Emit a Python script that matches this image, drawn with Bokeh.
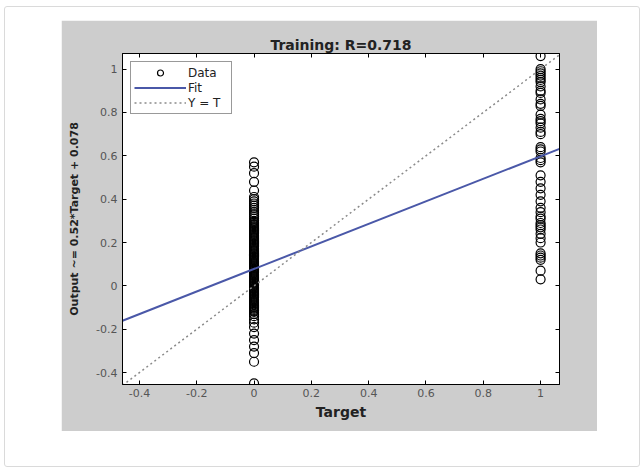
from bokeh.plotting import figure
from bokeh.models import (LinearAxis, FixedTicker, Range1d, Legend, LegendItem, ColumnDataSource)
from bokeh.layouts import column
from bokeh.embed import file_html
from bokeh.resources import INLINE

# ---- data ----
title_text = "Training: R=0.718"
x_label = "Target"
y_label = "Output ~= 0.52*Target + 0.078"
tick_values = [-0.4, -0.2, 0, 0.2, 0.4, 0.6, 0.8, 1]
tick_labels = ["-0.4", "-0.2", "0", "0.2", "0.4", "0.6", "0.8", "1"]
x_limits = [-0.459, 1.066]
y_limits = [-0.455, 1.072]

target_zero = 0
outputs_target_zero = [
    0.57, 0.55, 0.52, 0.48, 0.44, 0.41, 0.40, 0.39, 0.38, 0.37, 0.36, 0.35, 0.34,
    0.33, 0.32, 0.31, 0.30, 0.29, 0.28, 0.27, 0.26, 0.25, 0.24, 0.23, 0.22, 0.21,
    0.20, 0.19, 0.18, 0.17, 0.16, 0.15, 0.14, 0.13, 0.12, 0.11, 0.10, 0.09, 0.08,
    0.07, 0.06, 0.05, 0.04, 0.03, 0.02, 0.01, 0.00, -0.01, -0.02, -0.03, -0.04,
    -0.05, -0.06, -0.07, -0.08, -0.09, -0.10, -0.11, -0.12, -0.13, -0.14, -0.155,
    -0.17, -0.19, -0.22, -0.25, -0.28, -0.31, -0.35, -0.45,
    0.295, 0.285, 0.275, 0.265, 0.255, 0.245, 0.235, 0.225, 0.215, 0.205, 0.195,
    0.185, 0.175, 0.165, 0.155, 0.145, 0.135, 0.125, 0.115, 0.105, 0.095, 0.085,
    0.075, 0.065, 0.055, 0.045, 0.035, 0.025, 0.015, 0.005, -0.005, -0.015, -0.025,
    -0.035, -0.045, -0.055, -0.065, -0.075, -0.085, -0.095, -0.105, -0.115,
]
target_one = 1
outputs_target_one = [
    1.06, 1.00, 0.99, 0.98, 0.97, 0.96, 0.95, 0.94, 0.92, 0.90, 0.89, 0.86, 0.84,
    0.83, 0.79, 0.77, 0.76, 0.75, 0.73, 0.71, 0.70, 0.64, 0.63, 0.62, 0.59, 0.58,
    0.57, 0.51, 0.48, 0.45, 0.42, 0.39, 0.36, 0.34, 0.32, 0.31, 0.29, 0.28, 0.27,
    0.26, 0.24, 0.22, 0.20, 0.15, 0.14, 0.13, 0.12, 0.07, 0.03,
]
fit_slope = 0.52
fit_intercept = 0.078

targets = [target_zero] * len(outputs_target_zero) + [target_one] * len(outputs_target_one)
outputs = outputs_target_zero + outputs_target_one

FONT = "DejaVu Sans"
TXT = "#222222"

p = figure(width=536, height=411, output_backend="svg", toolbar_location=None,
           x_range=Range1d(*x_limits), y_range=Range1d(*y_limits),
           min_border_left=61, min_border_right=38, min_border_top=33, min_border_bottom=47,
           border_fill_color="#cdcdcd", background_fill_color="white",
           x_axis_location="below", y_axis_location="left")
p.margin = (13, 42, 35, 56)
p.outline_line_color = "black"
p.grid.visible = False

p.title.text = title_text
p.title.align = "center"
p.title.text_font = FONT
p.title.text_font_size = "14px"
p.title.text_font_style = "bold"
p.title.text_color = TXT
p.title.standoff = 2

overrides = {v: l for v, l in zip(tick_values, tick_labels)}
for ax in (p.xaxis[0], p.yaxis[0]):
    ax.ticker = FixedTicker(ticks=tick_values)
    ax.major_label_overrides = overrides
    ax.major_tick_in = 4
    ax.major_tick_out = 0
    ax.minor_tick_line_color = None
    ax.axis_line_color = "black"
    ax.major_tick_line_color = "black"
    ax.major_label_text_font = FONT
    ax.major_label_text_font_size = "11px"
    ax.major_label_text_color = "#555555"
    ax.axis_label_text_font = FONT
    ax.axis_label_text_font_style = "bold"
    ax.axis_label_text_color = TXT
p.xaxis[0].axis_label = x_label
p.xaxis[0].axis_label_text_font_size = "14px"
p.xaxis[0].major_label_standoff = 4
p.xaxis[0].axis_label_standoff = 4
p.yaxis[0].axis_label = y_label
p.yaxis[0].axis_label_text_font_size = "11px"
p.yaxis[0].major_label_standoff = 5
p.yaxis[0].axis_label_standoff = 12

for loc in ("above", "right"):
    ax = LinearAxis(ticker=FixedTicker(ticks=tick_values))
    ax.major_tick_in = 4
    ax.major_tick_out = 0
    ax.minor_tick_line_color = None
    ax.axis_line_color = "black"
    ax.major_tick_line_color = "black"
    ax.major_label_text_color = None
    ax.major_label_text_font_size = "1px"
    ax.major_label_standoff = 0
    p.add_layout(ax, loc)

src = ColumnDataSource(dict(t=targets, y=outputs))
r_data = p.scatter("t", "y", source=src, marker="circle", size=9,
                   fill_color=None, line_color="black", line_width=1.2)

fit_y = [fit_slope * a + fit_intercept for a in x_limits]
r_fit = p.line(x_limits, fit_y, line_color="#4a58a8", line_width=2)
r_yt = p.line(x_limits, x_limits, line_color="#8a8a8a", line_width=1.5, line_dash="2 3")

legend = Legend(items=[LegendItem(label="Data", renderers=[r_data]),
                       LegendItem(label="Fit", renderers=[r_fit]),
                       LegendItem(label="Y = T", renderers=[r_yt])],
                location="top_left")
legend.margin = 8
legend.padding = 3
legend.spacing = 0
legend.glyph_width = 52
legend.glyph_height = 15
legend.label_standoff = 2
legend.label_width = 40
legend.label_text_font = FONT
legend.label_text_font_size = "12px"
legend.label_text_color = TXT
legend.label_height = 15
legend.border_line_color = "#333333"
legend.border_line_width = 1
legend.background_fill_color = "white"
legend.background_fill_alpha = 1
p.add_layout(legend, "center")

card = column(p, styles={"border": "1px solid #dadada", "border-radius": "3px",
                         "background-color": "white"})
card.margin = (6, 0, 0, 4)

open("out.html", "w").write(file_html(card, INLINE))
